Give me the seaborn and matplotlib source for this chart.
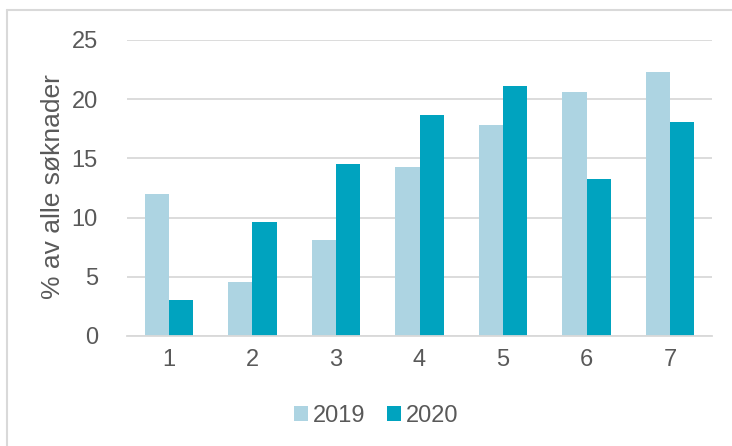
import matplotlib
matplotlib.use("Agg")
import matplotlib.pyplot as plt
from matplotlib.lines import Line2D
import seaborn as sns
import pandas as pd

categories = ["1", "2", "3", "4", "5", "6", "7"]
values_2019 = [12.0, 4.6, 8.1, 14.3, 17.8, 20.6, 22.3]
values_2020 = [3.0, 9.6, 14.5, 18.7, 21.1, 13.3, 18.1]
series_names = ["2019", "2020"]
y_ticks = [0, 5, 10, 15, 20, 25]

df = pd.DataFrame({
    "kategori": categories * 2,
    "verdi": values_2019 + values_2020,
    "år": [series_names[0]] * len(categories) + [series_names[1]] * len(categories),
})

sns.set_theme(style="white")
plt.rcParams["font.family"] = ["Liberation Sans", "DejaVu Sans"]
text_color = "#595959"
grid_color = "#d9d9d9"
fs = 17

fig = plt.figure(figsize=(7.32, 4.46), dpi=100)
ax = fig.add_axes([127 / 732, 1 - 336 / 446, 585 / 732, 296 / 446])

sns.barplot(data=df, x="kategori", y="verdi", hue="år",
            palette=["#add4e2", "#00a3bf"], width=0.58, gap=0,
            saturation=1, linewidth=0, edgecolor="none", ax=ax, legend=True)

ax.set_ylim(0, 25)
ax.set_yticks(y_ticks)
ax.set_xlim(-0.5, len(categories) - 0.5)
ax.yaxis.grid(True, color=grid_color, linewidth=1.3)
ax.set_axisbelow(True)
for s in ["top", "right", "left"]:
    ax.spines[s].set_visible(False)
ax.spines["bottom"].set_color(grid_color)
ax.spines["bottom"].set_linewidth(1.3)
ax.tick_params(axis="both", length=0, labelsize=fs, colors=text_color)
ax.tick_params(axis="x", pad=9)
ax.tick_params(axis="y", pad=21)
ax.set_xlabel("")
ax.set_ylabel("% av alle søknader", fontsize=19, color=text_color)
ax.yaxis.set_label_coords(65 / 732, 1 - 187 / 446, transform=fig.transFigure)

leg = ax.legend(loc="center", bbox_to_anchor=(376 / 732, 1 - 416 / 446),
                bbox_transform=fig.transFigure, ncol=2, frameon=False,
                fontsize=fs, handlelength=0.6, handleheight=0.6,
                handletextpad=0.2, columnspacing=0.9)
for t in leg.get_texts():
    t.set_color(text_color)

# chart border
fig.add_artist(Line2D([7 / 732, 7 / 732], [0, 1 - 10 / 446], transform=fig.transFigure,
                      color=grid_color, linewidth=1.5))
fig.add_artist(Line2D([7 / 732, 1], [1 - 10 / 446, 1 - 10 / 446], transform=fig.transFigure,
                      color=grid_color, linewidth=1.5))

fig.savefig("out.png", dpi=100)
